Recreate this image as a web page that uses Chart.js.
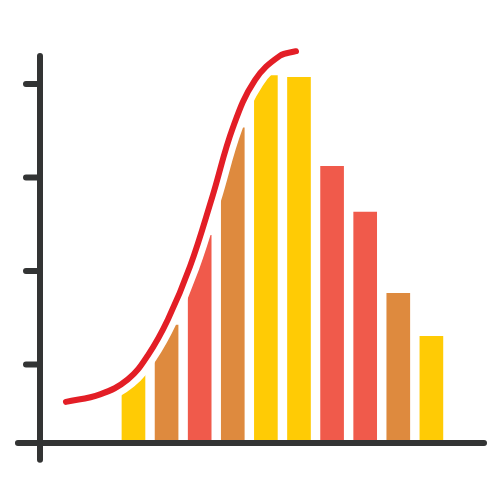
<!DOCTYPE html>
<html>
<head>
<meta charset="utf-8">
<script src="https://cdn.jsdelivr.net/npm/chart.js@4"></script>
<style>
  body { margin: 0; background: #fff; }
</style>
</head>
<body>
<canvas id="histChart" width="500" height="500"></canvas>
<script>
// bar positions (1..10) and heights, in tick units
var barPos = [1, 2, 3, 4, 5, 6, 7, 8, 9, 10];
var barValues = [0.89, 1.42, 2.38, 3.53, 4.09, 4.07, 3.12, 2.63, 1.76, 1.30];
var barColors = ["#FFCB05", "#DE8A3E", "#F05A4B", "#DE8A3E", "#FFCB05",
                 "#FFCB05", "#F05A4B", "#F05A4B", "#DE8A3E", "#FFCB05"];

// the red curve over the bars
var curveX = [-1.04, -0.01, 0.83, 1.44, 2.04, 2.71, 3.37, 4.01, 4.67, 5.42, 5.91];
var curveY = [0.60, 0.68, 0.84, 1.10, 1.48, 2.05, 2.78, 3.54, 4.04, 4.30, 4.35];

// y axis tick marks (no labels)
var yTicks = [1, 2, 3, 4];

var curveData = curveX.map(function (x, i) { return { x: x, y: curveY[i] }; });
var barData = barPos.map(function (x, i) { return { x: x, y: barValues[i] }; });

// hand drawn axes: x axis sticks out left, y axis sticks out below
var axisLines = {
    id: "axisLines",
    afterDatasetsDraw: function (chart) {
        var c = chart.ctx;
        var xs = chart.scales.x, ys = chart.scales.y;
        var left = xs.getPixelForValue(xs.min);
        var base = ys.getPixelForValue(ys.min);
        c.save();
        c.strokeStyle = "#333434";
        c.lineWidth = 6;
        c.lineCap = "round";
        c.beginPath();
        c.moveTo(xs.getPixelForValue(-2.49), base);
        c.lineTo(xs.getPixelForValue(11.59), base);
        c.moveTo(left, ys.getPixelForValue(4.30));
        c.lineTo(left, ys.getPixelForValue(-0.02));
        yTicks.forEach(function (t) {
            var py = ys.getPixelForValue(t);
            c.moveTo(left - 14, py);
            c.lineTo(left, py);
        });
        c.stroke();
        c.restore();
    },
};

var ctx = document.getElementById("histChart").getContext("2d");
var histChart = new Chart(ctx, {
    type: "bar",
    data: {
        datasets: [
            {
                type: "line",
                data: curveData,
                borderColor: "#E31E26",
                borderWidth: 6,
                borderCapStyle: "round",
                pointRadius: 0,
                tension: 0.4,
                clip: false,
                order: 0,
            },
            {
                // white halo + white fill above the curve, trims the bar tops
                type: "line",
                data: curveData,
                borderColor: "#FFFFFF",
                backgroundColor: "#FFFFFF",
                fill: "end",
                borderWidth: 19,
                borderCapStyle: "round",
                pointRadius: 0,
                tension: 0.4,
                clip: false,
                order: 1,
            },
            {
                data: barData,
                backgroundColor: barColors,
                barThickness: 23,
                order: 2,
            },
        ],
    },
    options: {
        responsive: false,
        animation: false,
        layout: { padding: { left: 40, right: 13, top: 40, bottom: 57 } },
        plugins: { legend: { display: false }, tooltip: { enabled: false } },
        scales: {
            x: { type: "linear", min: -1.824, max: 11.68, offset: false, display: false },
            y: { min: 0.16, max: 4.47, display: false },
        },
    },
    plugins: [axisLines],
});
</script>
</body>
</html>
